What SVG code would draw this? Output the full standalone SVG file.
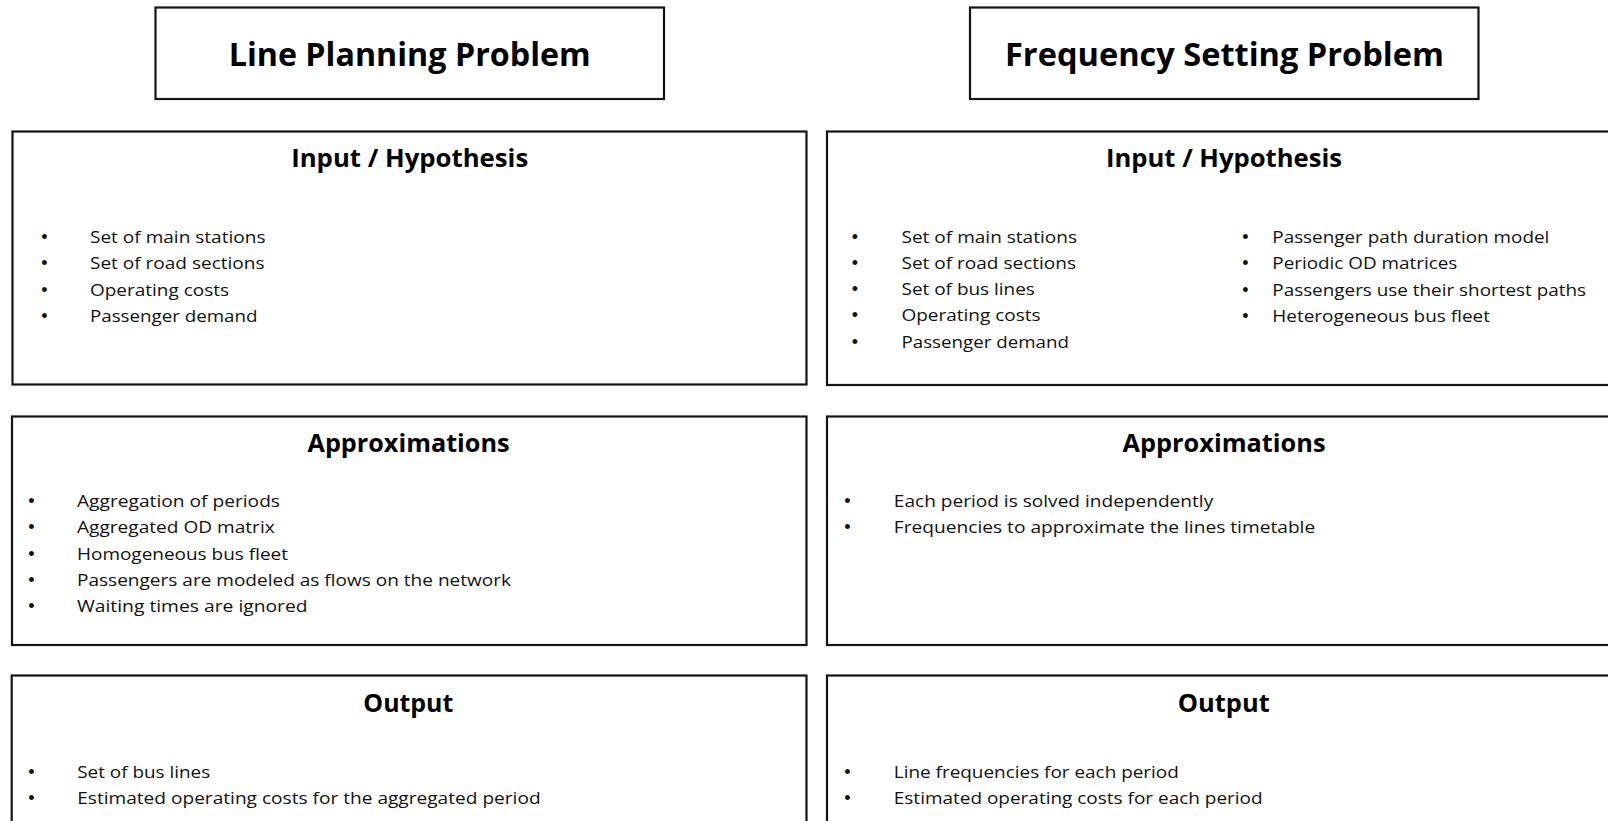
<svg xmlns="http://www.w3.org/2000/svg" width="1608" height="821" viewBox="0 0 1608 821">
<style>
.box{fill:#fff;stroke:#141414;stroke-width:2.2}
.title{font-family:"Open Sans","Liberation Sans",sans-serif;font-weight:bold;font-size:33px;fill:#000;text-anchor:middle}
.head{font-family:"Open Sans","Liberation Sans",sans-serif;font-weight:bold;font-size:24.5px;fill:#000;text-anchor:middle}
.item{font-family:"Open Sans","Liberation Sans",sans-serif;font-size:16.5px;fill:#111}
.bul{font-family:"Liberation Sans",sans-serif;font-size:18px;fill:#111;text-anchor:middle}
</style>
<rect width="1608" height="821" fill="#fff"/>
<g id="title-lpp">
<rect class="box" x="155.5" y="7.5" width="508.5" height="91.5"/>
<text class="title" x="409.7" y="66" textLength="362" lengthAdjust="spacingAndGlyphs">Line Planning Problem</text>
</g>
<g id="title-fsp">
<rect class="box" x="970" y="7.5" width="508.5" height="91.5"/>
<text class="title" x="1224.5" y="66" textLength="439" lengthAdjust="spacingAndGlyphs">Frequency Setting Problem</text>
</g>
<g id="lpp-input">
<rect class="box" x="12.5" y="131.5" width="794" height="253"/>
<text class="head" x="409.7" y="167" textLength="237" lengthAdjust="spacingAndGlyphs">Input / Hypothesis</text>
<text class="bul" x="44.5" y="243.3">•</text>
<text class="bul" x="44.5" y="269.3">•</text>
<text class="bul" x="44.5" y="295.7">•</text>
<text class="bul" x="44.5" y="322.3">•</text>
<text class="item" x="90" y="243.3" textLength="175.5" lengthAdjust="spacingAndGlyphs">Set of main stations</text>
<text class="item" x="90" y="269.3" textLength="174.5" lengthAdjust="spacingAndGlyphs">Set of road sections</text>
<text class="item" x="90" y="295.7" textLength="139" lengthAdjust="spacingAndGlyphs">Operating costs</text>
<text class="item" x="90" y="322.3" textLength="167.5" lengthAdjust="spacingAndGlyphs">Passenger demand</text>
</g>
<g id="fsp-input">
<rect class="box" x="827" y="131.5" width="800" height="253.5"/>
<text class="head" x="1224" y="167" textLength="236" lengthAdjust="spacingAndGlyphs">Input / Hypothesis</text>
<text class="bul" x="855" y="242.5">•</text>
<text class="bul" x="855" y="268.5">•</text>
<text class="bul" x="855" y="295">•</text>
<text class="bul" x="855" y="321">•</text>
<text class="bul" x="855" y="347.5">•</text>
<text class="item" x="901.5" y="242.5" textLength="175.5" lengthAdjust="spacingAndGlyphs">Set of main stations</text>
<text class="item" x="901.5" y="268.5" textLength="174.5" lengthAdjust="spacingAndGlyphs">Set of road sections</text>
<text class="item" x="901.5" y="295" textLength="133.4" lengthAdjust="spacingAndGlyphs">Set of bus lines</text>
<text class="item" x="901.5" y="321" textLength="139" lengthAdjust="spacingAndGlyphs">Operating costs</text>
<text class="item" x="901.5" y="347.5" textLength="167.4" lengthAdjust="spacingAndGlyphs">Passenger demand</text>
<text class="bul" x="1245.5" y="243.3">•</text>
<text class="bul" x="1245.5" y="269.3">•</text>
<text class="bul" x="1245.5" y="296">•</text>
<text class="bul" x="1245.5" y="322">•</text>
<text class="item" x="1272.3" y="243.3" textLength="277" lengthAdjust="spacingAndGlyphs">Passenger path duration model</text>
<text class="item" x="1272.3" y="269.3" textLength="185" lengthAdjust="spacingAndGlyphs">Periodic OD matrices</text>
<text class="item" x="1272.3" y="296" textLength="313.7" lengthAdjust="spacingAndGlyphs">Passengers use their shortest paths</text>
<text class="item" x="1272.3" y="322" textLength="217.7" lengthAdjust="spacingAndGlyphs">Heterogeneous bus fleet</text>
</g>
<g id="lpp-approx">
<rect class="box" x="12" y="416.5" width="794.5" height="228.5"/>
<text class="head" x="408.5" y="451.7" textLength="202" lengthAdjust="spacingAndGlyphs">Approximations</text>
<text class="bul" x="31.4" y="506.7">•</text>
<text class="bul" x="31.4" y="533.3">•</text>
<text class="bul" x="31.4" y="559.5">•</text>
<text class="bul" x="31.4" y="585.8">•</text>
<text class="bul" x="31.4" y="612.3">•</text>
<text class="item" x="77" y="506.7" textLength="203" lengthAdjust="spacingAndGlyphs">Aggregation of periods</text>
<text class="item" x="77" y="533.3" textLength="197.7" lengthAdjust="spacingAndGlyphs">Aggregated OD matrix</text>
<text class="item" x="77" y="559.5" textLength="211" lengthAdjust="spacingAndGlyphs">Homogeneous bus fleet</text>
<text class="item" x="77" y="585.8" textLength="434" lengthAdjust="spacingAndGlyphs">Passengers are modeled as flows on the network</text>
<text class="item" x="77" y="612.3" textLength="230.6" lengthAdjust="spacingAndGlyphs">Waiting times are ignored</text>
</g>
<g id="fsp-approx">
<rect class="box" x="827" y="416.5" width="800" height="228.5"/>
<text class="head" x="1224" y="451.7" textLength="203" lengthAdjust="spacingAndGlyphs">Approximations</text>
<text class="bul" x="847.4" y="506.7">•</text>
<text class="bul" x="847.4" y="533.3">•</text>
<text class="item" x="893.8" y="506.7" textLength="319.4" lengthAdjust="spacingAndGlyphs">Each period is solved independently</text>
<text class="item" x="893.8" y="533.3" textLength="421.4" lengthAdjust="spacingAndGlyphs">Frequencies to approximate the lines timetable</text>
</g>
<g id="lpp-output">
<rect class="box" x="11.7" y="675.5" width="794.8" height="160"/>
<text class="head" x="408.3" y="712.3" textLength="90" lengthAdjust="spacingAndGlyphs">Output</text>
<text class="bul" x="31.4" y="778">•</text>
<text class="bul" x="31.4" y="804">•</text>
<text class="item" x="77.2" y="778" textLength="133" lengthAdjust="spacingAndGlyphs">Set of bus lines</text>
<text class="item" x="77.2" y="804" textLength="463.4" lengthAdjust="spacingAndGlyphs">Estimated operating costs for the aggregated period</text>
</g>
<g id="fsp-output">
<rect class="box" x="827" y="675.5" width="800" height="160"/>
<text class="head" x="1223.8" y="712.3" textLength="92" lengthAdjust="spacingAndGlyphs">Output</text>
<text class="bul" x="847.4" y="778">•</text>
<text class="bul" x="847.4" y="804">•</text>
<text class="item" x="893.8" y="778" textLength="285" lengthAdjust="spacingAndGlyphs">Line frequencies for each period</text>
<text class="item" x="893.8" y="804" textLength="368.8" lengthAdjust="spacingAndGlyphs">Estimated operating costs for each period</text>
</g>
<g id="connectors"/>
</svg>
